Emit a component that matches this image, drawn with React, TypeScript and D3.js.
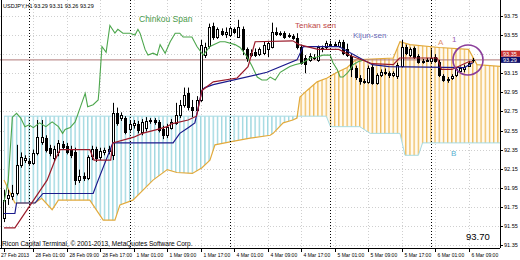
import React from "react";
import * as d3 from "d3";

const symbolName = "USDJPY,H1";
const headerOHLC = ["93.29", "93.31", "93.26", "93.29"];
const copyrightText = "Ricon Capital Terminal, © 2001-2013, MetaQuotes Software Corp.";

const opens = [
  91.63, 91.84, 91.86, 91.9, 92.19, 92.24, 92.23, 92.21, 92.31, 92.43,
  92.47, 92.37, 92.26, 92.32, 92.41, 92.39, 92.35, 92.32, 92.03, 92.07,
  92.05, 92.28, 92.36, 92.27, 92.32, 92.33, 92.29, 92.73, 92.68, 92.68,
  92.57, 92.61, 92.62, 92.53, 92.58, 92.65, 92.66, 92.64, 92.57, 92.5,
  92.58, 92.63, 92.71, 92.82, 92.94, 92.8, 92.76, 92.87, 93.34, 93.44,
  93.65, 93.53, 93.59, 93.56, 93.55, 93.61, 93.53, 93.61, 93.4, 93.34,
  93.37, 93.35, 93.36, 93.4, 93.43, 93.58, 93.56, 93.57, 93.54, 93.54,
  93.52, 93.43, 93.31, 93.29, 93.32, 93.29, 93.41, 93.42, 93.46, 93.45,
  93.44, 93.48, 93.4, 93.33, 93.2, 93.1, 93.07, 93.06, 93.22, 93.05,
  93.13, 93.16, 93.15, 93.13, 93.12, 93.23, 93.43, 93.34, 93.41, 93.33,
  93.27, 93.28, 93.28, 93.32, 93.27, 93.12, 93.08, 93.1, 93.13, 93.17,
  93.19, 93.23, 93.29,
];
const highs = [
  91.93, 91.93, 91.98, 92.4, 92.32, 92.29, 92.26, 92.35, 92.66, 92.66,
  92.5, 92.4, 92.39, 92.45, 92.44, 92.42, 92.39, 92.37, 92.14, 92.11,
  92.29, 92.39, 92.38, 92.37, 92.37, 92.39, 92.84, 92.79, 92.74, 92.7,
  92.65, 92.66, 92.65, 92.67, 92.69, 92.68, 92.68, 92.66, 92.6, 92.62,
  92.67, 92.84, 92.87, 93.0, 93.0, 92.87, 92.91, 93.5, 93.47, 93.67,
  93.68, 93.63, 93.62, 93.63, 93.64, 93.63, 93.71, 93.64, 93.42, 93.4,
  93.41, 93.42, 93.48, 93.49, 93.68, 93.63, 93.59, 93.59, 93.57, 93.56,
  93.57, 93.45, 93.34, 93.36, 93.35, 93.44, 93.44, 93.49, 93.49, 93.48,
  93.5, 93.5, 93.46, 93.35, 93.23, 93.13, 93.09, 93.23, 93.25, 93.15,
  93.19, 93.2, 93.17, 93.17, 93.26, 93.5, 93.45, 93.42, 93.43, 93.35,
  93.3, 93.31, 93.4, 93.35, 93.29, 93.14, 93.11, 93.14, 93.21, 93.22,
  93.24, 93.28, 93.31,
];
const lows = [
  91.59, 91.77, 91.82, 91.87, 92.16, 92.21, 92.19, 92.19, 92.29, 92.4,
  92.32, 92.28, 92.22, 92.28, 92.35, 92.3, 92.26, 91.98, 92.0, 92.02,
  92.03, 92.24, 92.22, 92.24, 92.29, 92.3, 92.24, 92.6, 92.65, 92.51,
  92.54, 92.57, 92.52, 92.5, 92.54, 92.62, 92.61, 92.53, 92.46, 92.47,
  92.56, 92.61, 92.68, 92.79, 92.76, 92.69, 92.74, 92.85, 93.31, 93.41,
  93.5, 93.51, 93.54, 93.52, 93.53, 93.56, 93.52, 93.34, 93.27, 93.32,
  93.32, 93.33, 93.34, 93.32, 93.41, 93.54, 93.54, 93.51, 93.52, 93.5,
  93.4, 93.24, 93.15, 93.27, 93.29, 93.27, 93.37, 93.4, 93.43, 93.43,
  93.42, 93.34, 93.32, 93.11, 93.08, 93.03, 93.04, 93.04, 93.03, 93.03,
  93.11, 93.13, 93.1, 93.11, 93.09, 93.21, 93.34, 93.32, 93.3, 93.25,
  93.25, 93.27, 93.26, 93.26, 93.11, 93.06, 93.05, 93.08, 93.11, 93.15,
  93.16, 93.22, 93.26,
];
const closes = [
  91.82, 91.87, 91.9, 92.19, 92.27, 92.26, 92.21, 92.31, 92.48, 92.48,
  92.35, 92.31, 92.36, 92.42, 92.38, 92.32, 92.29, 92.03, 92.07, 92.05,
  92.27, 92.36, 92.26, 92.33, 92.35, 92.36, 92.73, 92.63, 92.71, 92.53,
  92.62, 92.63, 92.56, 92.64, 92.65, 92.66, 92.64, 92.56, 92.5, 92.59,
  92.64, 92.71, 92.82, 92.92, 92.8, 92.76, 92.87, 93.45, 93.43, 93.63,
  93.53, 93.61, 93.56, 93.58, 93.62, 93.58, 93.63, 93.4, 93.31, 93.36,
  93.34, 93.4, 93.45, 93.47, 93.58, 93.56, 93.57, 93.53, 93.55, 93.52,
  93.42, 93.26, 93.25, 93.33, 93.31, 93.42, 93.4, 93.47, 93.45, 93.46,
  93.48, 93.36, 93.34, 93.19, 93.11, 93.07, 93.06, 93.21, 93.05, 93.13,
  93.16, 93.15, 93.13, 93.15, 93.24, 93.43, 93.36, 93.4, 93.32, 93.27,
  93.28, 93.29, 93.31, 93.28, 93.13, 93.08, 93.09, 93.12, 93.19, 93.2,
  93.22, 93.26, 93.29,
];

const priceTicks = [93.75, 93.55, 93.15, 92.95, 92.75, 92.55, 92.35, 92.15, 91.95, 91.75, 91.55, 91.35];
const gridPrices = [93.75, 93.55, 93.35, 93.15, 92.95, 92.75, 92.55, 92.35, 92.15, 91.95, 91.75, 91.55, 91.35];
const timeTickIdx = [0, 7, 15, 23, 31, 39, 47, 55, 63, 71, 79, 87, 95, 103, 111];
const timeTickLabels = [
  "27 Feb 2013", "28 Feb 01:00", "28 Feb 09:00", "28 Feb 17:00", "1 Mar 01:00",
  "1 Mar 09:00", "1 Mar 17:00", "4 Mar 01:00", "4 Mar 09:00", "4 Mar 17:00",
  "5 Mar 01:00", "5 Mar 09:00", "5 Mar 17:00", "6 Mar 01:00", "6 Mar 09:00",
];
const daySeparatorIdx = [6, 30, 54, 78, 102];

const tenkanIdx = [0, 2.6, 10.3, 12.2, 13.4, 20.5, 21.5, 25.5, 26, 31, 33, 36.5, 39, 40, 44, 46, 47.3, 50, 55.7, 58.3, 60, 69, 70.5, 75, 80, 83, 88, 93, 94.5, 103.5, 104.5, 107, 111, 112];
const tenkanVal = [91.53, 91.53, 92.03, 92.24, 92.35, 92.35, 92.24, 92.24, 92.42, 92.48, 92.52, 92.56, 92.59, 92.62, 92.66, 92.7, 92.97, 93.06, 93.1, 93.22, 93.48, 93.49, 93.45, 93.4, 93.4, 93.33, 93.25, 93.24, 93.31, 93.31, 93.19, 93.19, 93.27, 93.27];

const kijunIdx = [0, 2.6, 3, 7.4, 9.3, 21.3, 22.5, 26, 40.4, 42, 44, 45.6, 47.3, 48, 50, 62.8, 70, 71.5, 80, 85, 88, 92, 110, 112];
const kijunVal = [91.68, 91.68, 91.79, 91.79, 91.89, 91.89, 92.03, 92.42, 92.42, 92.52, 92.58, 92.63, 92.97, 93.0, 93.03, 93.16, 93.29, 93.43, 93.43, 93.31, 93.24, 93.22, 93.21, 93.26];

const chikouIdx = [0, 1, 2, 3, 4, 5, 6, 7, 8.5, 10, 11.5, 13, 14, 14.6, 15.8, 17, 18.2, 19.4, 20, 21.3, 22.5, 22.7, 23.4, 24.4, 25.3, 26.5, 27.2, 28.4, 30.1, 31.3, 32, 32.5, 33.7, 34.4, 35.6, 36.6, 37.3, 38.5, 39.7, 40.9, 42, 42.8, 44.9, 46.1, 47.6, 49.2, 51.6, 52.8, 55.2, 56.4, 58.1, 59.3, 60.5, 61.6, 62.8, 63.6, 64.8, 66, 67.1, 68.3, 69.5, 71.4, 73.1, 74.8, 76.2, 77.9, 78.6, 79.6, 80.3, 81, 82, 82.7, 83.4, 84.6, 86];
const chikouVal = [91.8, 92.02, 92.69, 92.73, 92.68, 92.59, 92.61, 92.58, 92.63, 92.59, 92.64, 92.59, 92.52, 92.56, 92.58, 92.64, 92.79, 92.94, 92.8, 92.82, 92.87, 92.97, 93.43, 93.37, 93.65, 93.57, 93.61, 93.57, 93.57, 93.55, 93.61, 93.57, 93.4, 93.34, 93.36, 93.34, 93.45, 93.36, 93.48, 93.57, 93.57, 93.53, 93.53, 93.43, 93.34, 93.43, 93.48, 93.48, 93.45, 93.42, 93.32, 93.22, 93.11, 93.08, 93.08, 93.11, 93.08, 93.16, 93.19, 93.22, 93.24, 93.26, 93.31, 93.32, 93.34, 93.34, 93.26, 93.19, 93.11, 93.11, 93.15, 93.19, 93.24, 93.27, 93.29];

const spanAIdx = [0, 2.6, 7.4, 9, 11.5, 13, 20.5, 23.7, 26.5, 27.7, 30.8, 35.6, 39, 41.3, 45, 47.3, 49.2, 50.4, 54, 58.8, 63.6, 64.3, 66.7, 69, 70, 70.7, 72.4, 74.8, 77.2, 79.6, 82, 84, 93, 94.6, 97, 104, 111, 113, 119];
const spanAVal = [92.03, 91.79, 91.79, 91.84, 91.72, 91.82, 91.82, 91.61, 91.61, 91.77, 91.82, 92.03, 92.14, 92.11, 92.1, 92.16, 92.24, 92.4, 92.43, 92.47, 92.5, 92.52, 92.63, 92.66, 92.68, 92.9, 92.97, 93.06, 93.1, 93.16, 93.21, 93.29, 93.31, 93.48, 93.45, 93.42, 93.4, 93.24, 93.22];

const spanBIdx = [0, 77, 78, 85, 87.5, 94.6, 95.8, 99, 100, 119];
const spanBVal = [92.7, 92.7, 92.59, 92.59, 92.52, 92.52, 92.29, 92.29, 92.42, 92.42];

const bidPrice = 93.29;
const markerPrice = 93.35;
const cornerValue = "93.70";

type P = [number, number];
const zip = (a: number[], b: number[]): P[] => a.map((d, k) => [d, b[k]] as P);

export default function App() {
  const W = 520;
  const H = 260;
  const plotR = 500;
  const plotB = 248;
  const x = d3.scaleLinear().domain([0, 118.5]).range([4, 500]);
  const y = d3.scaleLinear().domain([91.35, 93.75]).range([245, 16]);
  const step = x(1) - x(0);
  const px = (i: number) => Math.round(x(i)) + 0.5;

  const line = d3.line<P>().x((d) => x(d[0])).y((d) => y(d[1]));
  const areaDown = d3.area<P>().x((d) => x(d[0])).y0(plotB + 5).y1((d) => y(d[1]));
  const areaUp = d3.area<P>().x((d) => x(d[0])).y0(-5).y1((d) => y(d[1]));

  const A = zip(spanAIdx, spanAVal);
  const B = zip(spanBIdx, spanBVal);
  const font = "'Liberation Sans', Arial, sans-serif";

  return (
    <svg width={W} height={H} style={{ position: "absolute", left: 0, top: 0, display: "block" }}>
      <defs>
        <clipPath id="plot">
          <rect x={0} y={0} width={plotR} height={plotB} />
        </clipPath>
        <clipPath id="aboveB">
          <path d={areaUp(B) || ""} />
        </clipPath>
        <clipPath id="aboveA">
          <path d={areaUp(A) || ""} />
        </clipPath>
        <pattern id="hatchSandy" patternUnits="userSpaceOnUse" width={step} height={8} x={x(0) - 0.7}>
          <rect width={step} height={8} fill="#fffaf0" />
          <rect width={1.3} height={8} fill="#efbd5e" />
        </pattern>
        <pattern id="hatchCyan" patternUnits="userSpaceOnUse" width={step} height={8} x={x(0) - 0.7}>
          <rect width={step} height={8} fill="#ffffff" />
          <rect width={1.4} height={8} fill="#9fd8e0" />
        </pattern>
      </defs>
      <rect x={0} y={0} width={W} height={H} fill="#ffffff" />

      <g clipPath="url(#plot)">
        {gridPrices.map((p) => (
          <line key={"hg" + p} x1={0} x2={plotR} y1={Math.round(y(p)) + 0.5} y2={Math.round(y(p)) + 0.5} stroke="#cfcfcf" strokeDasharray="1,2" />
        ))}
        {timeTickIdx.slice(1).map((i) => (
          <line key={"vg" + i} x1={px(i)} x2={px(i)} y1={0} y2={plotB} stroke="#cfcfcf" strokeDasharray="1,2" />
        ))}

        <g clipPath="url(#aboveB)">
          <path d={areaDown(A) || ""} fill="url(#hatchSandy)" />
        </g>
        <g clipPath="url(#aboveA)">
          <path d={areaDown(B) || ""} fill="url(#hatchCyan)" />
        </g>
        <path d={line(B) || ""} fill="none" stroke="#a6dbe3" strokeWidth={1} />
        <path d={line(A) || ""} fill="none" stroke="#e2aa3c" strokeWidth={1.2} />

        {daySeparatorIdx.map((i) => (
          <line key={"sep" + i} x1={px(i)} x2={px(i)} y1={0} y2={plotB} stroke="#000" strokeDasharray="1,2" />
        ))}

        <line x1={0} x2={plotR} y1={y(bidPrice)} y2={y(bidPrice)} stroke="#b07878" strokeWidth={1} />

        {opens.map((o, i) => {
          const c = closes[i];
          const cx = px(i);
          const top = Math.round(y(Math.max(o, c)));
          const bot = Math.round(y(Math.min(o, c)));
          const bull = c >= o;
          return (
            <g key={"c" + i}>
              <line x1={cx} x2={cx} y1={y(highs[i])} y2={y(lows[i])} stroke="#000" strokeWidth={1} />
              <rect x={cx - 1} y={top + 0.5} width={2} height={Math.max(0.01, bot - top)} fill={bull ? "#fff" : "#000"} stroke="#000" strokeWidth={1} />
            </g>
          );
        })}

        <path d={line(zip(chikouIdx, chikouVal)) || ""} fill="none" stroke="#4ca64c" strokeWidth={1.1} />
        <path d={line(zip(kijunIdx, kijunVal)) || ""} fill="none" stroke="#1a1a8c" strokeWidth={1.2} />
        <path d={line(zip(tenkanIdx, tenkanVal)) || ""} fill="none" stroke="#9a1a2a" strokeWidth={1.2} />
      </g>

      <text x={139} y={22} fontSize={8.5} fill="#4a9a4a" fontFamily={font}>Chinkou Span</text>
      <text x={295} y={28} fontSize={8} fill="#c04848" fontFamily={font}>Tenkan sen</text>
      <text x={353} y={38} fontSize={8} fill="#6a6ab8" fontFamily={font}>Kijun-sen</text>
      <text x={438} y={45} fontSize={8} fill="#e09070" fontFamily={font}>A</text>
      <text x={452} y={42} fontSize={8} fill="#9a5ab0" fontFamily={font}>1</text>
      <text x={451} y={156} fontSize={8} fill="#5ab0d0" fontFamily={font}>B</text>
      <circle cx={468} cy={60} r={15} fill="none" stroke="#8a3d9a" strokeWidth={1.6} />
      <text x={466} y={240} fontSize={9.5} fill="#000" fontFamily={font}>{cornerValue}</text>

      <text x={3} y={8} fontSize={5.5} fill="#000" fontFamily={font}>{symbolName + "  " + headerOHLC.join(" ")}</text>
      <text x={2} y={246} fontSize={6.5} fill="#000" fontFamily={font}>{copyrightText}</text>

      <line x1={plotR + 0.5} x2={plotR + 0.5} y1={0} y2={plotB} stroke="#000" />
      <line x1={0} x2={plotR} y1={plotB + 0.5} y2={plotB + 0.5} stroke="#000" />
      <line x1={1.5} x2={1.5} y1={0} y2={plotB} stroke="#000" />
      {priceTicks.map((p) => (
        <g key={"pt" + p}>
          <line x1={plotR} x2={plotR + 3} y1={Math.round(y(p)) + 0.5} y2={Math.round(y(p)) + 0.5} stroke="#000" />
          <text x={plotR + 4} y={y(p) + 2} fontSize={5.5} fill="#000" fontFamily={font}>{p.toFixed(2)}</text>
        </g>
      ))}
      <rect x={plotR + 1} y={y(markerPrice) - 3.5} width={19} height={6} fill="#c83030" />
      <text x={plotR + 3} y={y(markerPrice) + 1.5} fontSize={5.5} fill="#fff" fontFamily={font}>{markerPrice.toFixed(2)}</text>
      <rect x={plotR + 1} y={y(bidPrice) - 3} width={19} height={6} fill="#10106a" />
      <text x={plotR + 3} y={y(bidPrice) + 2} fontSize={5.5} fill="#fff" fontFamily={font}>{bidPrice.toFixed(2)}</text>
      {timeTickIdx.map((i, k) => (
        <g key={"tt" + i}>
          <line x1={px(i)} x2={px(i)} y1={plotB} y2={plotB + 4} stroke="#000" />
          <text x={k === 0 ? 1 : px(i) + 2} y={257} fontSize={5} fill="#000" fontFamily={font}>{timeTickLabels[k]}</text>
        </g>
      ))}
    </svg>
  );
}
